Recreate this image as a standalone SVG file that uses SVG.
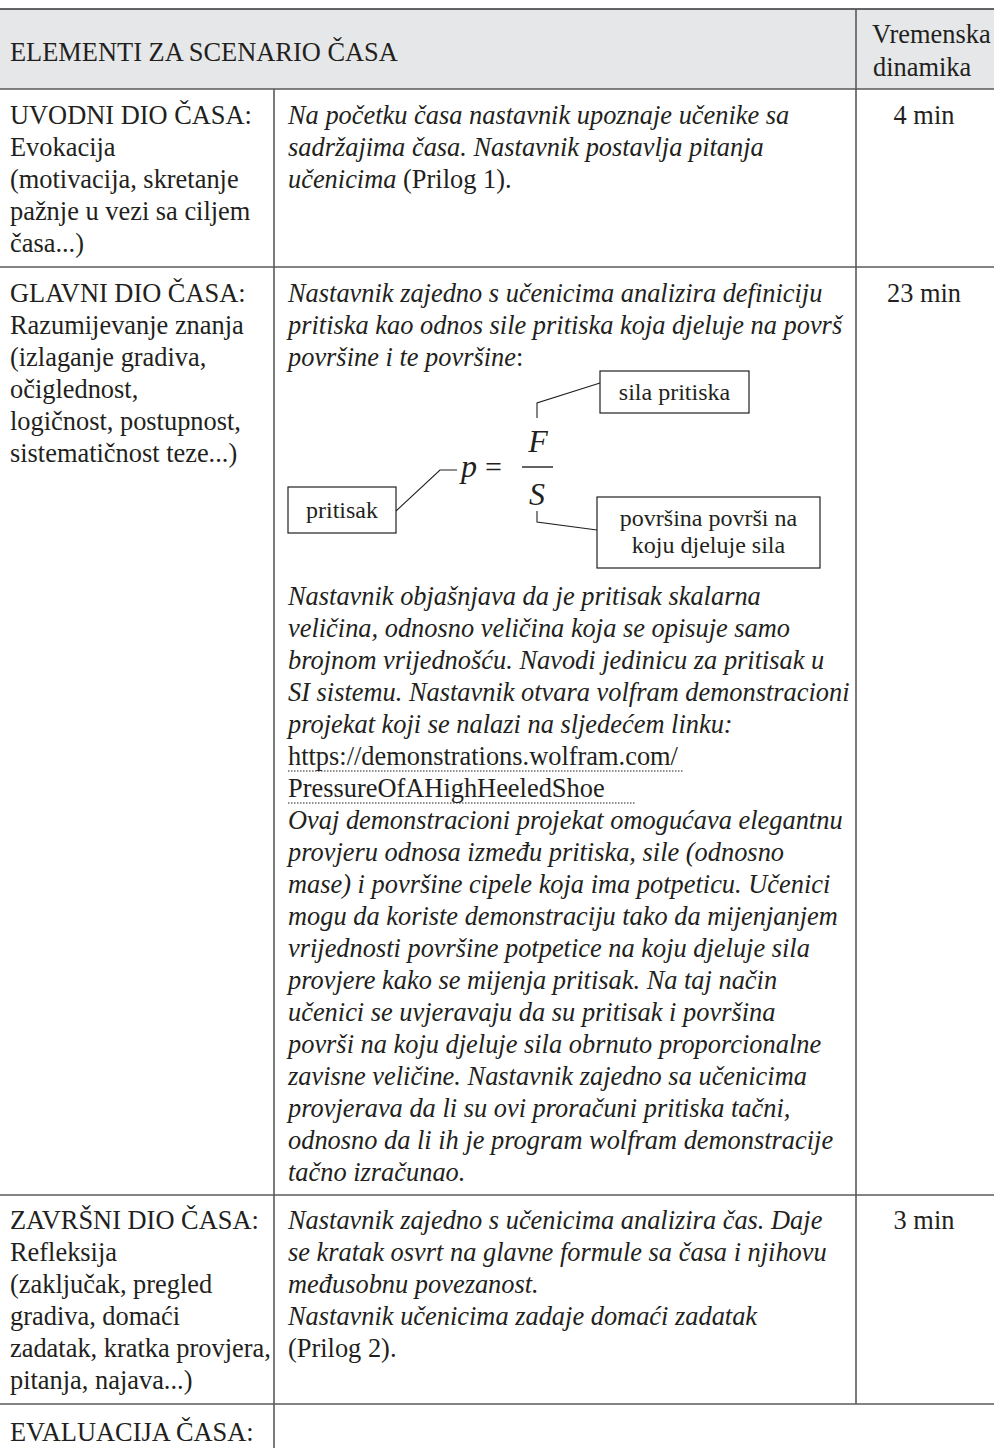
<svg xmlns="http://www.w3.org/2000/svg" width="994" height="1448" viewBox="0 0 994 1448">
<style>
text{font-family:"Liberation Serif","Times New Roman",serif;font-size:26.4px;fill:#231f20}
.i{font-style:italic}
.c{text-anchor:middle}
.bx{font-size:24px}
.ln{stroke:#5a5a5a;stroke-width:1.6;fill:none}
.box{stroke:#231f20;stroke-width:1.2;fill:#fff}
.con{stroke:#231f20;stroke-width:1.1;fill:none}
.dot{stroke:#231f20;stroke-width:1;stroke-dasharray:1.5 1.5;fill:none}
</style>
<defs>
<clipPath id="mid"><rect x="275" y="267" width="580" height="930"/></clipPath>
</defs>
<rect x="0" y="0" width="994" height="1448" fill="#fff"/>
<g id="header">
<rect x="0" y="9" width="994" height="80" fill="#e6e7e8"/>
<text x="10" y="61">ELEMENTI ZA SCENARIO ČASA</text>
<text x="872" y="43">Vremenska</text>
<text x="873" y="76">dinamika</text>
</g>
<g id="grid">
<line class="ln" x1="0" y1="9" x2="994" y2="9" style="stroke:#333"/>
<line class="ln" x1="0" y1="89" x2="994" y2="89"/>
<line class="ln" x1="0" y1="267" x2="994" y2="267"/>
<line class="ln" x1="0" y1="1195" x2="994" y2="1195"/>
<line class="ln" x1="0" y1="1404" x2="994" y2="1404"/>
<line class="ln" x1="274" y1="89" x2="274" y2="1448"/>
<line class="ln" x1="856" y1="9" x2="856" y2="1404"/>
</g>
<g id="row1">
<text x="10" y="124">UVODNI DIO ČASA:</text>
<text x="10" y="156">Evokacija</text>
<text x="10" y="188">(motivacija, skretanje</text>
<text x="10" y="220">pažnje u vezi sa ciljem</text>
<text x="10" y="252">časa...)</text>
<text class="i" x="288" y="124">Na početku časa nastavnik upoznaje učenike sa</text>
<text class="i" x="288" y="156">sadržajima časa. Nastavnik postavlja pitanja</text>
<text x="288" y="188"><tspan class="i">učenicima</tspan> (Prilog 1).</text>
<text class="c" x="924" y="124">4 min</text>
</g>
<g id="row2">
<text x="10" y="302">GLAVNI DIO ČASA:</text>
<text x="10" y="334">Razumijevanje znanja</text>
<text x="10" y="366">(izlaganje gradiva,</text>
<text x="10" y="398">očiglednost,</text>
<text x="10" y="430">logičnost, postupnost,</text>
<text x="10" y="462">sistematičnost teze...)</text>
<g clip-path="url(#mid)">
<text class="i" x="288" y="302">Nastavnik zajedno s učenicima analizira definiciju</text>
<text class="i" x="288" y="334">pritiska kao odnos sile pritiska koja djeluje na površ</text>
<text x="288" y="366"><tspan class="i">površine i te površine</tspan>:</text>
</g>
<text class="i" x="288" y="605">Nastavnik objašnjava da je pritisak skalarna</text>
<text class="i" x="288" y="637">veličina, odnosno veličina koja se opisuje samo</text>
<text class="i" x="288" y="669">brojnom vrijednošću. Navodi jedinicu za pritisak u</text>
<text class="i" x="288" y="701">SI sistemu. Nastavnik otvara volfram demonstracioni</text>
<text class="i" x="288" y="733">projekat koji se nalazi na sljedećem linku:</text>
<text x="288" y="765">https://demonstrations.wolfram.com/</text>
<line class="dot" x1="288" y1="771" x2="683" y2="771"/>
<text x="288" y="797">PressureOfAHighHeeledShoe</text>
<line class="dot" x1="288" y1="803" x2="636" y2="803"/>
<text class="i" x="288" y="829">Ovaj demonstracioni projekat omogućava elegantnu</text>
<text class="i" x="288" y="861">provjeru odnosa između pritiska, sile (odnosno</text>
<text class="i" x="288" y="893">mase) i površine cipele koja ima potpeticu. Učenici</text>
<text class="i" x="288" y="925">mogu da koriste demonstraciju tako da mijenjanjem</text>
<text class="i" x="288" y="957">vrijednosti površine potpetice na koju djeluje sila</text>
<text class="i" x="288" y="989">provjere kako se mijenja pritisak. Na taj način</text>
<text class="i" x="288" y="1021">učenici se uvjeravaju da su pritisak i površina</text>
<text class="i" x="288" y="1053">površi na koju djeluje sila obrnuto proporcionalne</text>
<text class="i" x="288" y="1085">zavisne veličine. Nastavnik zajedno sa učenicima</text>
<text class="i" x="288" y="1117">provjerava da li su ovi proračuni pritiska tačni,</text>
<text class="i" x="288" y="1149">odnosno da li ih je program wolfram demonstracije</text>
<text class="i" x="288" y="1181">tačno izračunao.</text>
<text class="c" x="924" y="302">23 min</text>
</g>
<g id="formula">
<text class="i" x="461" y="477" style="font-size:32px">p</text>
<text x="485" y="477" style="font-size:30px">=</text>
<text class="i c" x="538" y="452" style="font-size:32px">F</text>
<line x1="522" y1="467" x2="553" y2="467" stroke="#231f20" stroke-width="1.4"/>
<text class="i c" x="537" y="505" style="font-size:32px">S</text>
</g>
<g id="connectors">
<polyline class="con" points="600,383 537,403 537,418"/>
<polyline class="con" points="396,511 440,470 457,470"/>
<polyline class="con" points="537,511 537,522 597,530"/>
</g>
<g id="box-sila">
<rect class="box" x="600" y="371" width="149" height="42"/>
<text class="bx c" x="674.5" y="400">sila pritiska</text>
</g>
<g id="box-pritisak">
<rect class="box" x="288" y="487" width="108" height="46"/>
<text class="bx c" x="342" y="518">pritisak</text>
</g>
<g id="box-povrsina">
<rect class="box" x="597" y="497" width="223" height="71"/>
<text class="bx c" x="708.5" y="526">površina površi na</text>
<text class="bx c" x="708.5" y="553">koju djeluje sila</text>
</g>
<g id="row3">
<text x="10" y="1229">ZAVRŠNI DIO ČASA:</text>
<text x="10" y="1261">Refleksija</text>
<text x="10" y="1293">(zaključak, pregled</text>
<text x="10" y="1325">gradiva, domaći</text>
<text x="10" y="1357">zadatak, kratka provjera,</text>
<text x="10" y="1389">pitanja, najava...)</text>
<text class="i" x="288" y="1229">Nastavnik zajedno s učenicima analizira čas. Daje</text>
<text class="i" x="288" y="1261">se kratak osvrt na glavne formule sa časa i njihovu</text>
<text class="i" x="288" y="1293">međusobnu povezanost.</text>
<text class="i" x="288" y="1325">Nastavnik učenicima zadaje domaći zadatak</text>
<text x="288" y="1357">(Prilog 2).</text>
<text class="c" x="924" y="1229">3 min</text>
</g>
<g id="row4">
<text x="10" y="1441">EVALUACIJA ČASA:</text>
</g>
</svg>
